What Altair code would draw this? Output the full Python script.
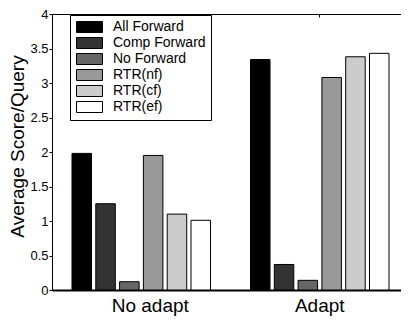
import altair as alt
import pandas as pd

groups = ["No adapt", "Adapt"]
series = ["All Forward", "Comp Forward", "No Forward", "RTR(nf)", "RTR(cf)", "RTR(ef)"]
no_adapt = [1.98, 1.25, 0.12, 1.95, 1.10, 1.01]
adapt = [3.34, 0.37, 0.14, 3.08, 3.38, 3.43]
fills = ["#000000", "#333333", "#666666", "#999999", "#cccccc", "#ffffff"]
y_ticks = [0, 0.5, 1, 1.5, 2, 2.5, 3, 3.5, 4]

rows = []
for g, vals in zip(groups, [no_adapt, adapt]):
    for s, v in zip(series, vals):
        rows.append({"group": g, "series": s, "value": v})
df = pd.DataFrame(rows)

FONT = "Liberation Sans"
rect_path = "M-2.36,-1H2.36V1H-2.36Z"

x_scale = alt.Scale(domain=groups, paddingInner=0, paddingOuter=0)
y_scale = alt.Scale(domain=[0, 4], nice=False, zero=True)
off_scale = alt.Scale(domain=series, paddingInner=0.18, paddingOuter=0.84)

base = alt.Chart(df)

bars = base.mark_bar(stroke="black", strokeWidth=1).encode(
    x=alt.X("group:N", scale=x_scale, sort=groups,
            axis=alt.Axis(title=None, labelAngle=0, labelFontSize=19, labelColor="black",
                          labelFont=FONT, tickSize=0, labelPadding=21,
                          labelBaseline="alphabetic", domainColor="black", domainWidth=2,
                          labelOffset={"condition": {"test": "datum.value === 'No adapt'", "value": 9}, "value": 0})),
    xOffset=alt.XOffset("series:N", scale=off_scale, sort=series),
    y=alt.Y("value:Q", scale=y_scale,
            axis=alt.Axis(title="Average Score/Query", values=y_ticks, format="~g", grid=False,
                          labelFontSize=13, labelColor="black", labelFont=FONT, tickSize=3,
                          tickColor="black", domainColor="black", labelPadding=1,
                          titleFontSize=19, titleFont=FONT, titleFontWeight="normal",
                          titleColor="black", titleX=-29, titleY=132, titleAngle=270,
                          titleBaseline="alphabetic", titleAlign="center")),
    fill=alt.Fill("series:N", scale=alt.Scale(domain=series, range=fills), sort=series,
                  legend=alt.Legend(orient="none", legendX=18, legendY=1, title=None,
                                    strokeColor="black", fillColor="white", padding=5,
                                    symbolType=rect_path, symbolSize=121,
                                    symbolStrokeColor="black", symbolStrokeWidth=1,
                                    symbolOffset=7.5, labelOffset=16.5,
                                    labelFontSize=14, labelFont=FONT, labelColor="black",
                                    rowPadding=0)),
)

frame = base.mark_bar(opacity=0).encode(
    x=alt.X("group:N", scale=x_scale, sort=groups,
            axis=alt.Axis(orient="top", title=None, labels=False, domain=False,
                          tickSize=3, tickColor="black", offset=-3)),
    xOffset=alt.XOffset("series:N", scale=off_scale, sort=series),
    y=alt.Y("value:Q", scale=y_scale,
            axis=alt.Axis(orient="right", title=None, labels=False, domain=False, grid=False,
                          values=[0.5, 1, 1.5, 2, 2.5, 3, 3.5], tickSize=3,
                          tickColor="black", offset=-3)),
)

chart = alt.layer(bars, frame).resolve_axis(x="independent", y="independent").properties(
    width=357, height=276,
    autosize=alt.AutoSizeParams(type="none"),
    padding={"left": 44, "top": 6, "right": -8, "bottom": 26},
    background="white",
).configure_view(stroke="black", strokeWidth=1)

chart.save("out.html", embed_options={"renderer": "svg", "actions": False})
